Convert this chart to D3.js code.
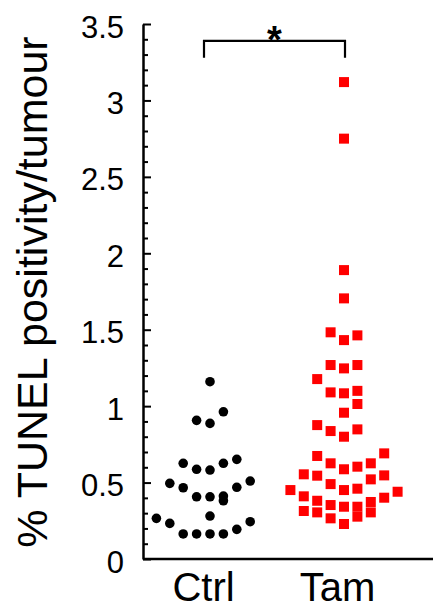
<!DOCTYPE html>
<html lang="en">
    <head>
        <meta charset="utf-8">
        <title>TUNEL positivity</title>
        <script src="https://d3js.org/d3.v7.min.js"></script>
        <style>
            body { margin: 0; background: #fff; }
            text { font-family: 'Liberation Sans', Arial, sans-serif; }
        </style>
    </head>
    <body>
        <script>
            // values, slot = column in the dot stack
            const groups = ['Ctrl', 'Tam'];
            const ctrlValues = [1.16, 0.907, 0.887, 0.963, 0.626, 0.587, 0.582, 0.626, 0.652,
                                0.495, 0.466, 0.407, 0.407, 0.412, 0.381, 0.469, 0.51,
                                0.266, 0.233, 0.164, 0.164, 0.164, 0.164, 0.194, 0.244, 0.281];
            const ctrlSlots = [0, -1, 0, 1, -2, -1, 0, 1, 2,
                               -3, -2, -1, 0, 1, 1, 2, 3,
                               -4, -3, -2, -1, 0, 1, 2, 3, 0];
            const tamValues = [3.12, 2.75, 1.89, 1.705, 1.483, 1.432, 1.463, 1.269, 1.247, 1.269,
                               1.177, 1.09, 1.084, 1.10, 1.014, 0.957, 0.876, 0.837, 0.80, 0.848,
                               0.691, 0.674, 0.626, 0.587, 0.604, 0.626, 0.554, 0.545, 0.49, 0.451,
                               0.46, 0.521, 0.547, 0.451, 0.41, 0.381, 0.353, 0.342, 0.342, 0.373,
                               0.401, 0.44, 0.314, 0.305, 0.266, 0.229, 0.277, 0.305];
            const tamSlots = [0, 0, 0, 0, -1, 0, 1, -1, 0, 1,
                              -2, -1, 0, 1, 1, 0, -2, -1, 0, 1,
                              3, -2, -1, 0, 1, 2, -3, -2, -1, 0,
                              1, 2, 3, -4, -3, -2, -1, 0, 1, 2,
                              3, 4, -3, -2, -1, 0, 1, 2];
            const yTicks = [0, 0.5, 1, 1.5, 2, 2.5, 3, 3.5];
            const yTickLabels = ['0', '0.5', '1', '1.5', '2', '2.5', '3', '3.5'];
            const minorTicks = d3.range(0, 36).map(d => d / 10).filter(d => Math.round(d * 10) % 5 !== 0);
            const sigLabel = '*';
            const yTitle = '% TUNEL positivity/tumour';

            const w = 433;
            const h = 611;
            const left = 143;
            const bottom = 559;

            const svg = d3.select('body')
                          .append('svg')
                          .attr('width', w)
                          .attr('height', h)

            const yScale = d3.scaleLinear()
                             .domain([0, 3.5])
                             .range([bottom, 24])
            const xScale = d3.scalePoint()
                             .domain(groups)
                             .range([left, 411])
                             .padding(0.5)
            const slotScale = d3.scaleLinear()
                                .domain([0, 1])
                                .range([0, 13.4])

            // minor ticks
            svg.append('g')
               .attr('transform', 'translate(' + left + ',0)')
               .call(d3.axisLeft(yScale).tickValues(minorTicks).tickSize(-5).tickFormat(''))
               .call(g => g.select('.domain').remove())
               .selectAll('line')
               .attr('stroke-width', 2)

            // y axis
            const yAxis = svg.append('g')
                             .attr('transform', 'translate(' + left + ',0)')
                             .call(d3.axisLeft(yScale)
                                     .tickValues(yTicks)
                                     .tickFormat((d, i) => yTickLabels[i])
                                     .tickSize(-8)
                                     .tickSizeOuter(0)
                                     .tickPadding(19))
            yAxis.select('.domain').attr('stroke-width', 2.5)
            yAxis.selectAll('line').attr('stroke-width', 2)
            yAxis.selectAll('text')
                 .attr('font-size', 31)
                 .attr('dy', '0.42em')
                 .attr('fill', '#000')

            // x axis
            const xAxis = svg.append('g')
                             .attr('transform', 'translate(0,' + bottom + ')')
                             .call(d3.axisBottom(xScale).tickSize(0).tickSizeOuter(0).tickPadding(14))
            xAxis.select('.domain')
                 .attr('d', 'M' + left + ',0H' + w)
                 .attr('stroke-width', 2.5)
            xAxis.selectAll('text')
                 .attr('font-size', 40)
                 .attr('dx', -7)
                 .attr('dy', '0.71em')
                 .attr('fill', '#000')

            // y title
            svg.append('text')
               .text(yTitle)
               .attr('transform', 'translate(47,292) rotate(-90)')
               .attr('text-anchor', 'middle')
               .attr('font-size', 43)

            // Ctrl dots
            svg.selectAll('circle.ctrl')
               .data(ctrlValues)
               .enter()
               .append('circle')
               .attr('class', 'ctrl')
               .attr('cx', (d, i) => xScale('Ctrl') + slotScale(ctrlSlots[i]))
               .attr('cy', d => yScale(d))
               .attr('r', 4.8)
               .attr('fill', '#000')

            // Tam squares
            const side = 10;
            svg.selectAll('rect.tam')
               .data(tamValues)
               .enter()
               .append('rect')
               .attr('class', 'tam')
               .attr('x', (d, i) => xScale('Tam') + slotScale(tamSlots[i]) - side / 2)
               .attr('y', d => yScale(d) - side / 2)
               .attr('width', side)
               .attr('height', side)
               .attr('fill', '#ff0000')

            // significance bracket
            const bx1 = xScale('Ctrl') - 6;
            const bx2 = xScale('Tam') + 1;
            const by = yScale(3.39);
            const byLeg = yScale(3.28);
            svg.append('path')
               .attr('d', 'M' + bx1 + ',' + byLeg + 'V' + by + 'H' + bx2 + 'V' + byLeg)
               .attr('fill', 'none')
               .attr('stroke', '#000')
               .attr('stroke-width', 2.2)
            svg.append('text')
               .text(sigLabel)
               .attr('x', (bx1 + bx2) / 2)
               .attr('y', 53)
               .attr('text-anchor', 'middle')
               .attr('font-size', 38)
               .attr('font-weight', 'bold')
        </script>
    </body>
</html>
